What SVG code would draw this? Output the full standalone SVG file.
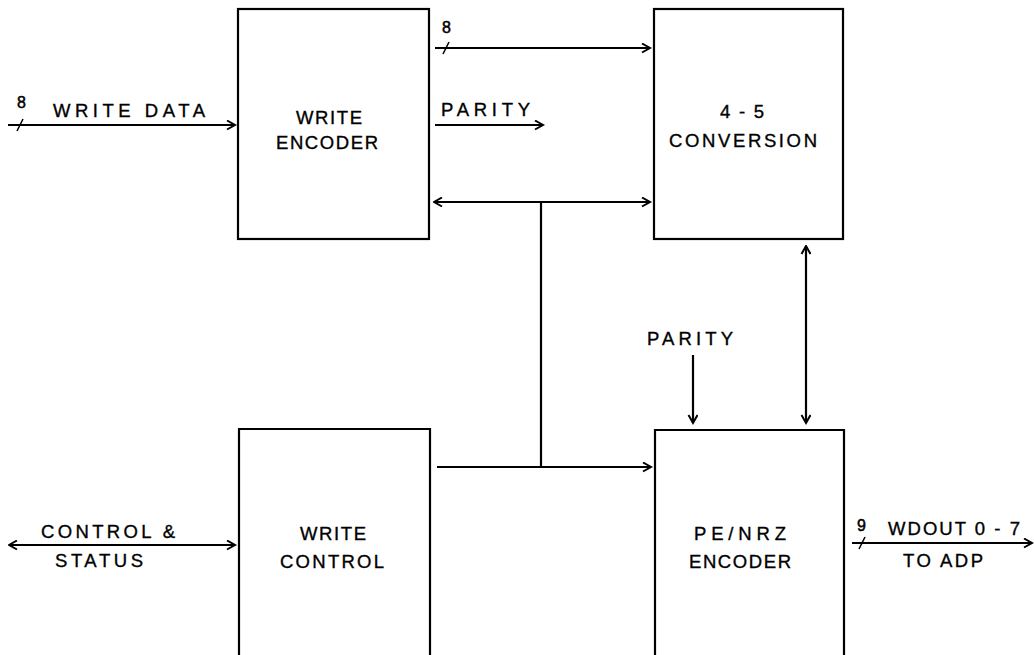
<svg xmlns="http://www.w3.org/2000/svg" width="1034" height="655" viewBox="0 0 1034 655">
<defs>
<marker id="ah" markerWidth="12" markerHeight="12" refX="9" refY="5" orient="auto" markerUnits="userSpaceOnUse">
<path d="M1,0.5 L9,5 L1,9.5" fill="none" stroke="#000" stroke-width="2"/>
</marker>
<marker id="as" markerWidth="12" markerHeight="12" refX="1" refY="5" orient="auto" markerUnits="userSpaceOnUse">
<path d="M9,0.5 L1,5 L9,9.5" fill="none" stroke="#000" stroke-width="2"/>
</marker>
</defs>
<style>
.box{fill:none;stroke:#000;stroke-width:2.2}
.ln{fill:none;stroke:#000;stroke-width:2.2}
.thin{fill:none;stroke:#000;stroke-width:1.6}
.t{font-family:"Liberation Sans","DejaVu Sans",sans-serif;font-size:18.5px;fill:#000;stroke:#000;stroke-width:0.35}
.c{text-anchor:middle}
.s{font-family:"Liberation Sans","DejaVu Sans",sans-serif;font-size:16px;fill:#000;stroke:#000;stroke-width:0.5}
</style>
<rect width="1034" height="655" fill="#fff"/>
<g id="write-encoder">
<rect class="box" x="238" y="9" width="191" height="230"/>
<text class="t c" x="329" y="124" textLength="66" lengthAdjust="spacing">WRITE</text>
<text class="t c" x="327" y="149" textLength="102" lengthAdjust="spacing">ENCODER</text>
</g>
<g id="conversion">
<rect class="box" x="654" y="9" width="189" height="230"/>
<text class="t c" x="742" y="118" textLength="44" lengthAdjust="spacing">4 - 5</text>
<text class="t c" x="743" y="147" textLength="148" lengthAdjust="spacing">CONVERSION</text>
</g>
<g id="write-control">
<path class="box" d="M239,660 V429 H430 V660"/>
<text class="t c" x="333" y="540" textLength="66" lengthAdjust="spacing">WRITE</text>
<text class="t c" x="332" y="568" textLength="104" lengthAdjust="spacing">CONTROL</text>
</g>
<g id="pe-nrz-encoder">
<path class="box" d="M655,660 V430 H844 V660"/>
<text class="t c" x="740" y="540" textLength="92" lengthAdjust="spacing">PE/NRZ</text>
<text class="t c" x="740" y="568" textLength="102" lengthAdjust="spacing">ENCODER</text>
</g>
<g id="connectors">
<line class="ln" x1="8" y1="125" x2="235" y2="125" marker-end="url(#ah)"/>
<line class="thin" x1="17" y1="131" x2="23" y2="119"/>
<line class="ln" x1="435" y1="48" x2="650" y2="48" marker-end="url(#ah)"/>
<line class="thin" x1="443" y1="54" x2="449" y2="42"/>
<line class="ln" x1="435" y1="125" x2="543" y2="125" marker-end="url(#ah)"/>
<line class="ln" x1="434" y1="202" x2="650" y2="202" marker-start="url(#as)" marker-end="url(#ah)"/>
<line class="ln" x1="541" y1="202" x2="541" y2="467"/>
<line class="ln" x1="437" y1="467" x2="651" y2="467" marker-end="url(#ah)"/>
<line class="ln" x1="806" y1="246" x2="806" y2="423" marker-start="url(#as)" marker-end="url(#ah)"/>
<line class="ln" x1="693" y1="355" x2="693" y2="423" marker-end="url(#ah)"/>
<line class="ln" x1="9" y1="545" x2="235" y2="545" marker-start="url(#as)" marker-end="url(#ah)"/>
<line class="ln" x1="852" y1="543" x2="1032" y2="543" marker-end="url(#ah)"/>
<line class="thin" x1="859" y1="549" x2="865" y2="537"/>
</g>
<g id="labels">
<text class="s" x="17" y="108">8</text>
<text class="t" x="53" y="117" textLength="152" lengthAdjust="spacing">WRITE DATA</text>
<text class="s" x="442" y="33">8</text>
<text class="t" x="441" y="116" textLength="89" lengthAdjust="spacing">PARITY</text>
<text class="t" x="647" y="345" textLength="86" lengthAdjust="spacing">PARITY</text>
<text class="t" x="41" y="538" textLength="134" lengthAdjust="spacing">CONTROL &amp;</text>
<text class="t" x="55" y="567" textLength="88" lengthAdjust="spacing">STATUS</text>
<text class="s" x="857" y="531">9</text>
<text class="t" x="888" y="535" textLength="132" lengthAdjust="spacing">WDOUT 0 - 7</text>
<text class="t" x="903" y="567" textLength="80" lengthAdjust="spacing">TO ADP</text>
</g>
</svg>
